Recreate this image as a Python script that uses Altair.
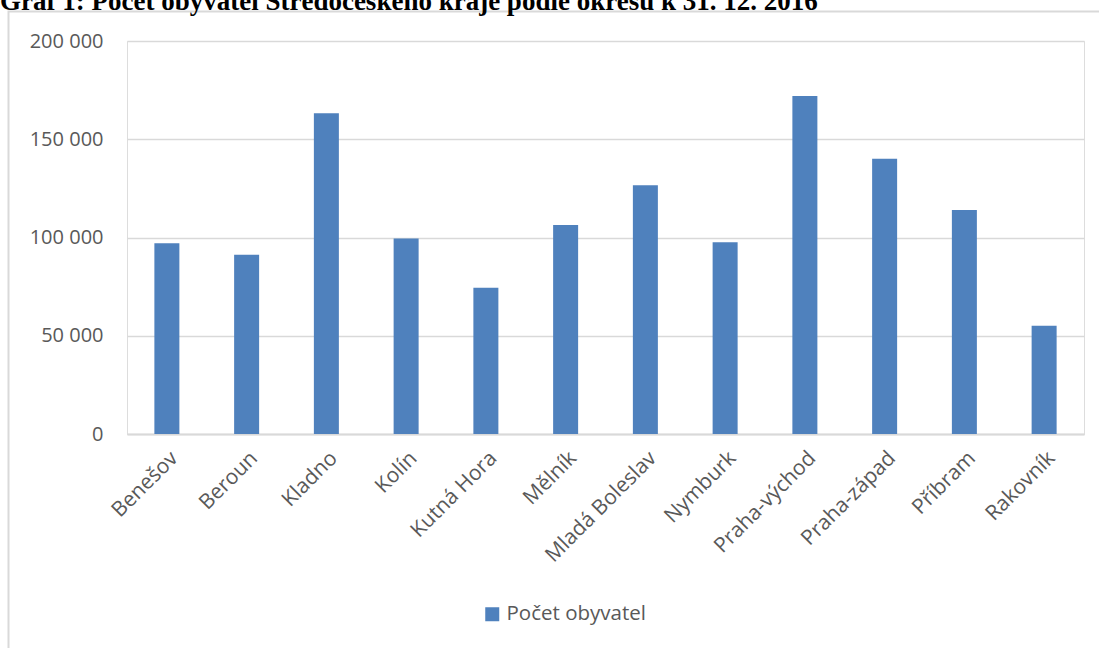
import altair as alt
import pandas as pd

okresy = ["Benešov", "Beroun", "Kladno", "Kolín", "Kutná Hora", "Mělník",
          "Mladá Boleslav", "Nymburk", "Praha-východ", "Praha-západ", "Příbram", "Rakovník"]
obyvatel = [97100, 91200, 163200, 99500, 74400, 106300,
            126600, 97600, 172000, 140100, 114000, 55100]
serie = "Počet obyvatel"
y_ticks = [0, 50000, 100000, 150000, 200000]
title_text = "Graf 1: Počet obyvatel Středočeského kraje podle okresů k 31. 12. 2016"

df = pd.DataFrame({"okres": okresy, "obyvatel": obyvatel, "serie": [serie] * len(okresy)})

W, H = 957, 393
PL, PT = 127, 41

frame = alt.Chart(pd.DataFrame({"a": [0]})).mark_rect(
    fill=None, stroke="#d9d9d9", strokeWidth=2
).encode(
    x=alt.value(8.5 - PL), x2=alt.value(1099 - PL + 10),
    y=alt.value(11.5 - PT), y2=alt.value(648 - PT + 10),
)

title = alt.Chart(pd.DataFrame({"t": [title_text]})).mark_text(
    align="left", baseline="alphabetic", font="Liberation Serif", fontSize=27,
    fontWeight="bold", color="#000000"
).encode(
    x=alt.value(0 - PL), y=alt.value(9.5 - PT), text="t:N"
)

bars = alt.Chart(df).mark_bar(size=25).encode(
    x=alt.X("okres:N", sort=okresy, title=None,
            scale=alt.Scale(paddingInner=0, paddingOuter=0),
            axis=alt.Axis(labelAngle=-45, labelFontSize=21, labelColor="#595959",
                          labelFont="Open Sans", ticks=False, domainColor="#d9d9d9",
                          domainWidth=2, labelPadding=13, grid=False)),
    y=alt.Y("obyvatel:Q", title=None,
            scale=alt.Scale(domain=[0, 200000], nice=False),
            axis=alt.Axis(values=y_ticks, ticks=False, domain=False,
                          labelFontSize=20, labelColor="#595959", labelFont="Open Sans",
                          labelPadding=24, gridColor="#d9d9d9", gridWidth=1.5,
                          labelExpr="replace(format(datum.value, ','), ',', ' ')")),
    color=alt.Color("serie:N", scale=alt.Scale(range=["#4f81bd"]),
                    legend=alt.Legend(title=None, orient="none", legendX=355, legendY=563,
                                      symbolType="square", symbolSize=196,
                                      symbolStrokeWidth=0, labelFontSize=20.5,
                                      labelFont="Open Sans", labelColor="#595959",
                                      labelOffset=4)),
)

chart = alt.layer(frame, bars, title).properties(
    width=W, height=H,
    padding={"left": PL, "top": PT, "right": 1099 - PL - W, "bottom": 648 - PT - H},
    autosize=alt.AutoSizeParams(type="none"),
).configure_view(stroke=None).configure(background="white")

chart.save("out.html", embed_options={"renderer": "svg", "actions": False})
